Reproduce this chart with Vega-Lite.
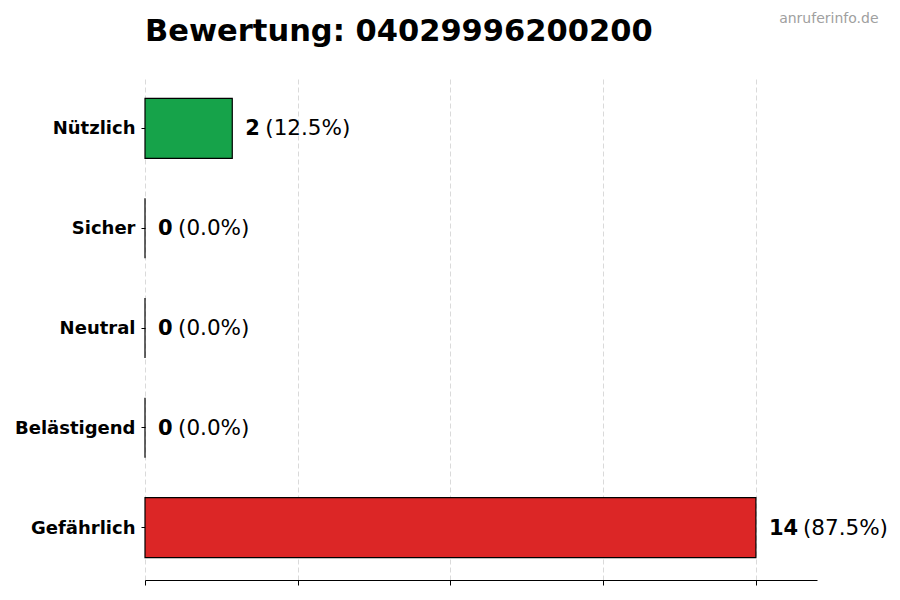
{
  "$schema": "https://vega.github.io/schema/vega-lite/v6.json",
  "width": 672,
  "height": 504,
  "autosize": {"type": "none"},
  "padding": {"left": 145, "top": 76, "right": 83, "bottom": 20},
  "background": "white",
  "title": {
    "text": "Bewertung: 04029996200200",
    "anchor": "start",
    "frame": "group",
    "font": "DejaVu Sans",
    "fontSize": 30.5,
    "fontWeight": "bold",
    "color": "black",
    "baseline": "alphabetic",
    "offset": 0,
    "dy": 60
  },
  "data": {
    "values": [
      {"category": "Nützlich", "count": 2, "pct_label": "(12.5%)"},
      {"category": "Sicher", "count": 0, "pct_label": "(0.0%)"},
      {"category": "Neutral", "count": 0, "pct_label": "(0.0%)"},
      {"category": "Belästigend", "count": 0, "pct_label": "(0.0%)"},
      {"category": "Gefährlich", "count": 14, "pct_label": "(87.5%)"}
    ]
  },
  "encoding": {
    "y": {
      "field": "category",
      "type": "nominal",
      "sort": ["Nützlich", "Sicher", "Neutral", "Belästigend", "Gefährlich"],
      "scale": {"paddingInner": 0.4, "paddingOuter": 0.225},
      "axis": {
        "title": null,
        "domain": false,
        "ticks": true,
        "tickSize": 4,
        "tickColor": "black",
        "labelPadding": 6,
        "labelFont": "DejaVu Sans",
        "labelFontSize": 18,
        "labelFontWeight": "bold",
        "labelColor": "black",
        "labelBaseline": "middle",
        "labelOffset": 1,
        "grid": false
      }
    }
  },
  "layer": [
    {
      "mark": {"type": "bar", "stroke": "black", "strokeWidth": 1.2},
      "encoding": {
        "x": {
          "field": "count",
          "type": "quantitative",
          "scale": {"domain": [0, 15.4], "nice": false},
          "axis": {
            "title": null,
            "values": [0, 3.5, 7, 10.5, 14],
            "labels": false,
            "domain": true,
            "domainColor": "black",
            "domainWidth": 1.2,
            "ticks": true,
            "tickSize": 5,
            "tickColor": "black",
            "grid": true,
            "gridColor": "#d0d0d0",
            "gridDash": [5, 3],
            "gridWidth": 0.8
          }
        },
        "color": {
          "field": "category",
          "type": "nominal",
          "scale": {
            "domain": ["Nützlich", "Sicher", "Neutral", "Belästigend", "Gefährlich"],
            "range": ["#16a34a", "#3b82f6", "#9ca3af", "#f59e0b", "#dc2626"]
          },
          "legend": null
        }
      }
    },
    {
      "mark": {"type": "text", "align": "left", "baseline": "middle", "dx": 13, "dy": 1, "font": "DejaVu Sans", "fontSize": 21, "fontWeight": "bold", "color": "black"},
      "encoding": {
        "x": {
          "field": "count",
          "type": "quantitative",
          "axis": {
            "orient": "top",
            "title": "anruferinfo.de",
            "titleFont": "DejaVu Sans",
            "titleFontSize": 14,
            "titleFontWeight": "normal",
            "titleColor": "#a0a0a0",
            "titleAnchor": "start",
            "titleAlign": "right",
            "titleBaseline": "alphabetic",
            "titleX": 733,
            "titleY": -54,
            "labels": false,
            "ticks": false,
            "domain": false,
            "grid": false
          }
        },
        "text": {"field": "count", "type": "quantitative"}
      }
    },
    {
      "transform": [{"filter": "datum.count < 10"}],
      "mark": {"type": "text", "align": "left", "baseline": "middle", "dx": 33, "dy": 1, "font": "DejaVu Sans", "fontSize": 21.5, "color": "black"},
      "encoding": {
        "x": {"field": "count", "type": "quantitative", "axis": null},
        "text": {"field": "pct_label", "type": "nominal"}
      }
    },
    {
      "transform": [{"filter": "datum.count >= 10"}],
      "mark": {"type": "text", "align": "left", "baseline": "middle", "dx": 47, "dy": 1, "font": "DejaVu Sans", "fontSize": 21.5, "color": "black"},
      "encoding": {
        "x": {"field": "count", "type": "quantitative", "axis": null},
        "text": {"field": "pct_label", "type": "nominal"}
      }
    }
  ],
  "resolve": {"axis": {"x": "independent"}},
  "config": {"view": {"stroke": null}}
}
